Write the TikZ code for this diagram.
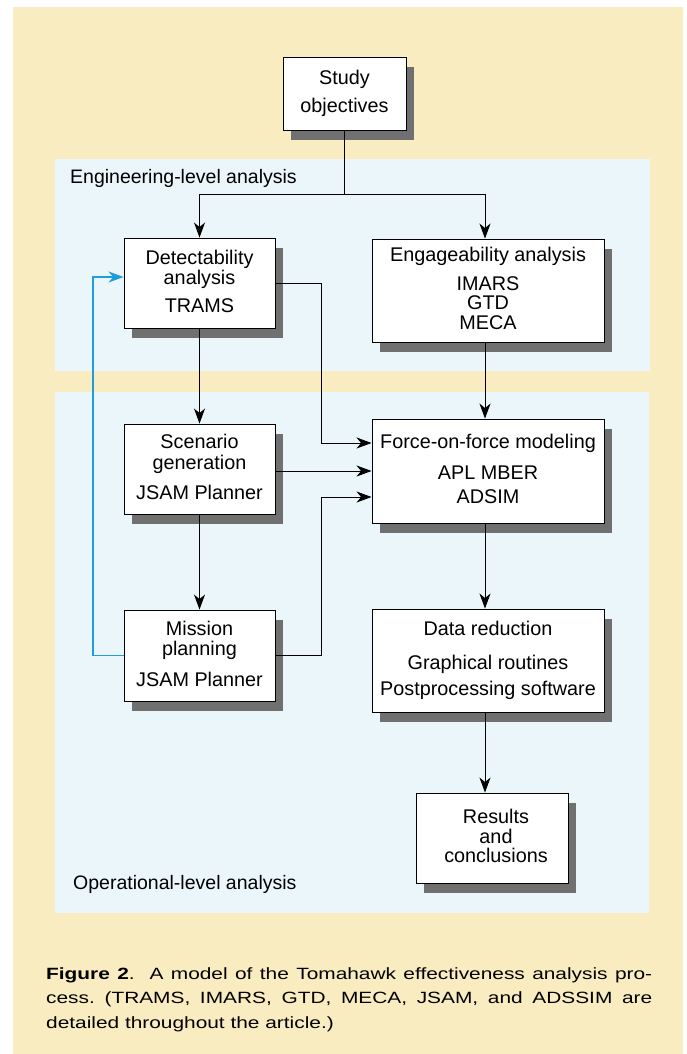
\documentclass[tikz,border=0pt]{standalone}
\usepackage{fontspec}
\setmainfont{Liberation Sans}
\newfontfamily\capfont[FakeStretch=1.28]{Liberation Sans}
\usetikzlibrary{arrows.meta,shadows,calc}
\definecolor{pagey}{RGB}{249,236,192}
\definecolor{panelb}{RGB}{234,246,250}
\definecolor{shadowc}{RGB}{112,112,112}
\definecolor{loopblue}{RGB}{30,158,222}
\newcommand\lstrut{\rule[-4.5pt]{0pt}{19pt}}
\tikzset{
  box/.style={draw=black, line width=0.9pt, fill=white, align=center, inner sep=0pt,
    font=\fontsize{19.8pt}{19.5pt}\selectfont,
    drop shadow={shadow xshift=8pt, shadow yshift=-10pt, fill=shadowc, opacity=1}},
  narrowbox/.style={box, minimum width=151pt, minimum height=90pt},
  widebox/.style={box, minimum width=232pt, minimum height=103pt},
  panellabel/.style={anchor=base west, inner sep=0pt, font=\fontsize{19.5pt}{19.5pt}\selectfont},
  conn/.style={line width=0.9pt, -{Stealth[length=15pt,width=11pt,inset=4.5pt]}},
  plainconn/.style={line width=0.9pt},
  loopconn/.style={draw=loopblue, line width=1.2pt, -{Stealth[length=15pt,width=11pt,inset=4.5pt]}, fill=none}
}
\begin{document}
\begin{tikzpicture}[x=1pt,y=-1pt]
\useasboundingbox (0,0) rectangle (687,1054);
% backgrounds
\fill[white] (0,0) rectangle (687,1054);
\fill[pagey] (13,7) rectangle (683,1054);
\fill[panelb] (55,159) rectangle (650,371);
\fill[panelb] (55,392) rectangle (649,913);

% panel labels
\node[panellabel] (englab) at (70,183) {Engineering-level analysis};
\node[panellabel] (oplab) at (73,889) {Operational-level analysis};

% boxes
\node[box, minimum width=123pt, minimum height=73pt] (study) at (344.5,93.5)
  {\lstrut Study\\[8.5pt]\lstrut objectives};
\node[narrowbox] (detect) at (199.5,283)
  {\lstrut Detectability\\[0.5pt]\lstrut analysis\\[8.5pt]\lstrut TRAMS};
\node[widebox] (engage) at (488,290.5)
  {\lstrut Engageability analysis\\[9pt]\lstrut IMARS\\\lstrut GTD\\\lstrut MECA};
\node[narrowbox] (scen) at (199.5,469)
  {\lstrut Scenario\\[1.5pt]\lstrut generation\\[11pt]\lstrut JSAM Planner};
\node[widebox, minimum height=104pt] (force) at (488,471)
  {\lstrut Force-on-force modeling\\[11.5pt]\lstrut APL MBER\\[4.5pt]\lstrut ADSIM};
\node[narrowbox, minimum height=91pt] (mission) at (199.5,655.5)
  {\lstrut Mission\\[0.5pt]\lstrut planning\\[11.5pt]\lstrut JSAM Planner};
\node[widebox] (data) at (488,660.5)
  {\lstrut Data reduction\\[14.5pt]\lstrut Graphical routines\\[6.5pt]\lstrut Postprocessing software};
\node[box, minimum width=152pt, minimum height=90pt] (results) at (492,838)
  {\lstrut\hspace*{8pt}Results\\\lstrut\hspace*{8pt}and\\\lstrut\hspace*{8pt}conclusions};

% connectors
\coordinate (split) at (344.5,194);
\coordinate (jx) at (321,0);
\coordinate (bx) at (93,0);
\draw[plainconn] (study.south) -- (split);
\draw[conn] (split) -| (detect.north);
\draw[conn] (split) -| ([xshift=-3pt]engage.north);
\draw[conn] (detect.south) -- (scen.north);
\draw[conn] (scen.south) -- (mission.north);
\draw[conn] ([xshift=-3pt]engage.south) -- ([xshift=-3pt]force.north);
\draw[conn] ([xshift=-3pt]force.south) -- ([xshift=-3pt]data.north);
\draw[conn] ([xshift=-3pt]data.south) -- ([xshift=-7pt]results.north);
\draw[conn] (detect.east) -- (detect.east -| jx) |- ([yshift=28pt]force.west);
\draw[conn] ([yshift=-2pt]scen.east) -- (force.west);
\draw[conn] (mission.east) -- (mission.east -| jx) |- ([yshift=-26pt]force.west);
\draw[loopconn] (mission.west) -- (mission.west -| bx) |- ([yshift=6pt]detect.west);

% caption
\node[anchor=base west, inner sep=0pt] (caption) at (46,979)
  {\capfont\frenchspacing\fontsize{16.3pt}{24.5pt}\selectfont\vtop{%
    \hbox to 606pt{\textbf{Figure 2}.\ \ A model of the Tomahawk effectiveness analysis pro-}%
    \hbox to 606pt{cess. (TRAMS, IMARS, GTD, MECA, JSAM, and ADSSIM are}%
    \hbox{detailed throughout the article.)}}};
\end{tikzpicture}
\end{document}
